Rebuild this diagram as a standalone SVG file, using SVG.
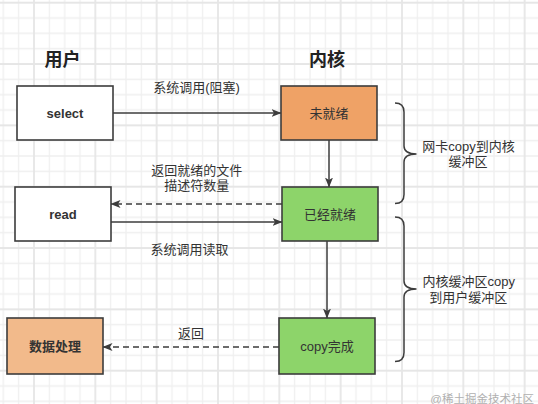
<svg xmlns="http://www.w3.org/2000/svg" width="538" height="404" viewBox="0 0 538 404">
  <defs>
    <pattern id="grid" x="33" y="1.7" width="61.333" height="61.333" patternUnits="userSpaceOnUse">
      <g stroke="#efefef" stroke-width="1.3" fill="none">
        <path d="M16.33,0 V61.333 M31.67,0 V61.333 M47,0 V61.333 M0,16.33 H61.333 M0,31.67 H61.333 M0,47 H61.333"/>
      </g>
      <path d="M1,0 V61.333 M0,1 H61.333" stroke="#e6e6e6" stroke-width="1.8" fill="none"/>
    </pattern>
    <marker id="arr" viewBox="0 0 10 8" refX="9.5" refY="4" markerWidth="10" markerHeight="8" markerUnits="userSpaceOnUse" orient="auto">
      <path d="M0,0 L10,4 L0,8 L2.5,4 Z" fill="#3c3c3c"/>
    </marker>
    <style>
      .box { stroke: #3c3c3c; stroke-width: 1.6; }
      .t { font-family: "Liberation Sans", "Noto Sans CJK SC", sans-serif; font-size: 13px; fill: #333; text-anchor: middle; }
      .b { font-weight: bold; }
      .title { font-family: "Liberation Sans", "Noto Sans CJK SC", sans-serif; font-size: 18px; font-weight: bold; fill: #222; text-anchor: middle; }
      .line { stroke: #3c3c3c; stroke-width: 1.5; fill: none; }
      .dash { stroke-dasharray: 6 4; }
      .brace { stroke: #3c3c3c; stroke-width: 1.5; fill: none; }
    </style>
  </defs>
  <rect x="0" y="0" width="538" height="404" fill="#ffffff"/>
  <rect x="0" y="0" width="538" height="404" fill="url(#grid)"/>

  <g id="titles">
    <text class="title" x="62.5" y="65.5">用户</text>
    <text class="title" x="327" y="65.5">内核</text>
  </g>

  <g id="connectors">
    <line class="line" x1="113" y1="113" x2="281" y2="113" marker-end="url(#arr)"/>
    <line class="line" x1="329" y1="140" x2="329" y2="187" marker-end="url(#arr)"/>
    <line class="line dash" x1="282" y1="204" x2="111" y2="204" marker-end="url(#arr)"/>
    <line class="line" x1="111" y1="222" x2="282" y2="222" marker-end="url(#arr)"/>
    <line class="line" x1="327" y1="241" x2="327" y2="318" marker-end="url(#arr)"/>
    <line class="line dash" x1="279" y1="347" x2="103" y2="347" marker-end="url(#arr)"/>
    <text class="t" x="196.5" y="92">系统调用(阻塞)</text>
    <text class="t" x="196.7" y="175">返回就绪的文件</text>
    <text class="t" x="196.7" y="190">描述符数量</text>
    <text class="t" x="189.5" y="254">系统调用读取</text>
    <text class="t" x="191" y="337.5">返回</text>
  </g>

  <g id="select">
    <rect class="box" x="17" y="86" width="96" height="54" fill="#ffffff"/>
    <text class="t b" x="65" y="117.5">select</text>
  </g>
  <g id="read">
    <rect class="box" x="15" y="187" width="96" height="54" fill="#ffffff"/>
    <text class="t b" x="63" y="218.5">read</text>
  </g>
  <g id="data">
    <rect class="box" x="7" y="318" width="96" height="56" fill="#F2BA8B"/>
    <text class="t b" x="55" y="350.5">数据处理</text>
  </g>
  <g id="notready">
    <rect class="box" x="281" y="86" width="96" height="54" fill="#EFA266"/>
    <text class="t" x="329" y="117.5">未就绪</text>
  </g>
  <g id="ready">
    <rect class="box" x="282" y="187" width="96" height="54" fill="#8DD46A"/>
    <text class="t" x="330" y="218.5">已经就绪</text>
  </g>
  <g id="copydone">
    <rect class="box" x="279" y="318" width="96" height="56" fill="#8DD46A"/>
    <text class="t" x="327" y="350.5">copy完成</text>
  </g>

  <g id="brace1">
    <path class="brace" d="M395,103 Q404,103 404,112 L404,146 Q404,154 416.5,154 Q404,154 404,162 L404,194.5 Q404,203.5 395,203.5"/>
    <text class="t" x="468.5" y="150.5">网卡copy到内核</text>
    <text class="t" x="468" y="166">缓冲区</text>
  </g>
  <g id="brace2">
    <path class="brace" d="M395,217 Q404,217 404,226 L404,281 Q404,289 416.5,289 Q404,289 404,297 L404,352.5 Q404,361.5 395,361.5"/>
    <text class="t" x="468.8" y="286">内核缓冲区copy</text>
    <text class="t" x="468.3" y="302">到用户缓冲区</text>
  </g>

  <text x="534" y="403" font-family="Liberation Sans, Noto Sans CJK SC, sans-serif" font-size="11.5" fill="#b0b0b0" text-anchor="end">@稀土掘金技术社区</text>
</svg>
